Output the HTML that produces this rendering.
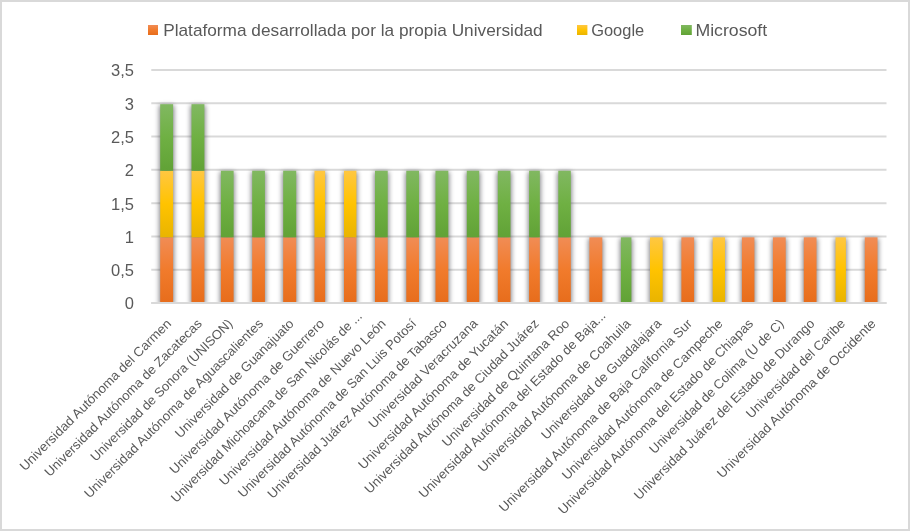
<!DOCTYPE html>
<html><head><meta charset="utf-8"><style>
html,body{margin:0;padding:0;background:#fff;}
svg{display:block;will-change:transform;filter:blur(0.3px);}
text{font-family:"Liberation Sans",sans-serif;fill:#595959;}
</style></head><body>
<svg width="910" height="531" viewBox="0 0 910 531">
<defs>
<linearGradient id="gO" x1="0" y1="0" x2="0" y2="1"><stop offset="0" stop-color="#F18C55"/><stop offset="0.5" stop-color="#F17B2C"/><stop offset="1" stop-color="#E76D1C"/></linearGradient>
<linearGradient id="gY" x1="0" y1="0" x2="0" y2="1"><stop offset="0" stop-color="#FFC742"/><stop offset="0.5" stop-color="#FFC300"/><stop offset="1" stop-color="#E9B400"/></linearGradient>
<linearGradient id="gG" x1="0" y1="0" x2="0" y2="1"><stop offset="0" stop-color="#81B861"/><stop offset="0.5" stop-color="#6FB043"/><stop offset="1" stop-color="#61A236"/></linearGradient>
<filter id="sh" x="-100%" y="-20%" width="300%" height="140%" color-interpolation-filters="sRGB">
<feMorphology in="SourceAlpha" operator="dilate" radius="0.8"/>
<feOffset dx="0" dy="2"/>
<feGaussianBlur stdDeviation="2.6"/>
<feComponentTransfer><feFuncA type="linear" slope="0.62"/></feComponentTransfer>
<feColorMatrix type="matrix" values="0 0 0 0 0.22  0 0 0 0 0.22  0 0 0 0 0.25  0 0 0 1 0"/>
<feMerge><feMergeNode/><feMergeNode in="SourceGraphic"/></feMerge>
</filter>
<clipPath id="pc"><rect x="151" y="60" width="735" height="242.3"/></clipPath>
</defs>
<rect x="1" y="1" width="908" height="529" fill="#fff" stroke="#d9d9d9" stroke-width="2"/>

<line x1="151.3" x2="886.5" y1="303.00" y2="303.00" stroke="#d9d9d9" stroke-width="2"/>
<line x1="151.3" x2="886.5" y1="269.71" y2="269.71" stroke="#d9d9d9" stroke-width="2"/>
<line x1="151.3" x2="886.5" y1="236.43" y2="236.43" stroke="#d9d9d9" stroke-width="2"/>
<line x1="151.3" x2="886.5" y1="203.14" y2="203.14" stroke="#d9d9d9" stroke-width="2"/>
<line x1="151.3" x2="886.5" y1="169.86" y2="169.86" stroke="#d9d9d9" stroke-width="2"/>
<line x1="151.3" x2="886.5" y1="136.57" y2="136.57" stroke="#d9d9d9" stroke-width="2"/>
<line x1="151.3" x2="886.5" y1="103.29" y2="103.29" stroke="#d9d9d9" stroke-width="2"/>
<line x1="151.3" x2="886.5" y1="70.00" y2="70.00" stroke="#d9d9d9" stroke-width="2"/>
<g clip-path="url(#pc)"><g filter="url(#sh)">
<rect x="160.20" y="237.33" width="12.900000000000006" height="65.07" fill="url(#gO)"/>
<rect x="160.20" y="170.76" width="12.900000000000006" height="66.57" fill="url(#gY)"/>
<rect x="160.20" y="104.19" width="12.900000000000006" height="66.57" fill="url(#gG)"/>
<rect x="191.50" y="237.33" width="12.900000000000006" height="65.07" fill="url(#gO)"/>
<rect x="191.50" y="170.76" width="12.900000000000006" height="66.57" fill="url(#gY)"/>
<rect x="191.50" y="104.19" width="12.900000000000006" height="66.57" fill="url(#gG)"/>
<rect x="220.90" y="237.33" width="12.699999999999989" height="65.07" fill="url(#gO)"/>
<rect x="220.90" y="170.76" width="12.699999999999989" height="66.57" fill="url(#gG)"/>
<rect x="252.20" y="237.33" width="12.699999999999989" height="65.07" fill="url(#gO)"/>
<rect x="252.20" y="170.76" width="12.699999999999989" height="66.57" fill="url(#gG)"/>
<rect x="283.20" y="237.33" width="13.0" height="65.07" fill="url(#gO)"/>
<rect x="283.20" y="170.76" width="13.0" height="66.57" fill="url(#gG)"/>
<rect x="314.50" y="237.33" width="10.600000000000023" height="65.07" fill="url(#gO)"/>
<rect x="314.50" y="170.76" width="10.600000000000023" height="66.57" fill="url(#gY)"/>
<rect x="344.00" y="237.33" width="12.399999999999977" height="65.07" fill="url(#gO)"/>
<rect x="344.00" y="170.76" width="12.399999999999977" height="66.57" fill="url(#gY)"/>
<rect x="375.00" y="237.33" width="12.699999999999989" height="65.07" fill="url(#gO)"/>
<rect x="375.00" y="170.76" width="12.699999999999989" height="66.57" fill="url(#gG)"/>
<rect x="406.30" y="237.33" width="12.699999999999989" height="65.07" fill="url(#gO)"/>
<rect x="406.30" y="170.76" width="12.699999999999989" height="66.57" fill="url(#gG)"/>
<rect x="435.50" y="237.33" width="12.800000000000011" height="65.07" fill="url(#gO)"/>
<rect x="435.50" y="170.76" width="12.800000000000011" height="66.57" fill="url(#gG)"/>
<rect x="466.80" y="237.33" width="12.399999999999977" height="65.07" fill="url(#gO)"/>
<rect x="466.80" y="170.76" width="12.399999999999977" height="66.57" fill="url(#gG)"/>
<rect x="497.80" y="237.33" width="12.699999999999989" height="65.07" fill="url(#gO)"/>
<rect x="497.80" y="170.76" width="12.699999999999989" height="66.57" fill="url(#gG)"/>
<rect x="529.10" y="237.33" width="10.699999999999932" height="65.07" fill="url(#gO)"/>
<rect x="529.10" y="170.76" width="10.699999999999932" height="66.57" fill="url(#gG)"/>
<rect x="558.30" y="237.33" width="12.5" height="65.07" fill="url(#gO)"/>
<rect x="558.30" y="170.76" width="12.5" height="66.57" fill="url(#gG)"/>
<rect x="589.40" y="237.33" width="12.899999999999977" height="65.07" fill="url(#gO)"/>
<rect x="620.90" y="237.33" width="10.5" height="65.07" fill="url(#gG)"/>
<rect x="650.00" y="237.33" width="12.700000000000045" height="65.07" fill="url(#gY)"/>
<rect x="681.40" y="237.33" width="12.700000000000045" height="65.07" fill="url(#gO)"/>
<rect x="712.70" y="237.33" width="12.299999999999955" height="65.07" fill="url(#gY)"/>
<rect x="741.90" y="237.33" width="12.5" height="65.07" fill="url(#gO)"/>
<rect x="772.90" y="237.33" width="12.800000000000068" height="65.07" fill="url(#gO)"/>
<rect x="803.80" y="237.33" width="12.700000000000045" height="65.07" fill="url(#gO)"/>
<rect x="835.50" y="237.33" width="10.399999999999977" height="65.07" fill="url(#gY)"/>
<rect x="864.80" y="237.33" width="12.700000000000045" height="65.07" fill="url(#gO)"/>
</g></g>
<line x1="151.3" x2="886.5" y1="303.00" y2="303.00" stroke="#d9d9d9" stroke-width="2"/>
<text x="134" y="309.40" font-size="16.5" text-anchor="end">0</text>
<text x="134" y="276.11" font-size="16.5" text-anchor="end">0,5</text>
<text x="134" y="242.83" font-size="16.5" text-anchor="end">1</text>
<text x="134" y="209.54" font-size="16.5" text-anchor="end">1,5</text>
<text x="134" y="176.26" font-size="16.5" text-anchor="end">2</text>
<text x="134" y="142.97" font-size="16.5" text-anchor="end">2,5</text>
<text x="134" y="109.69" font-size="16.5" text-anchor="end">3</text>
<text x="134" y="76.40" font-size="16.5" text-anchor="end">3,5</text>
<rect x="148" y="25" width="10" height="10" fill="url(#gO)"/>
<text x="163.2" y="35.8" font-size="17" textLength="379.5" lengthAdjust="spacingAndGlyphs">Plataforma desarrollada por la propia Universidad</text>
<rect x="577" y="25" width="10.4" height="10" fill="url(#gY)"/>
<text x="591.2" y="35.8" font-size="17" textLength="53" lengthAdjust="spacingAndGlyphs">Google</text>
<rect x="681" y="25" width="10.8" height="10" fill="url(#gG)"/>
<text x="695.4" y="35.8" font-size="17" textLength="71.8" lengthAdjust="spacingAndGlyphs">Microsoft</text>
<text transform="translate(172.02,324.40) rotate(-45)" font-size="13.0" text-anchor="end" textLength="208.1" lengthAdjust="spacingAndGlyphs">Universidad Autónoma del Carmen</text>
<text transform="translate(202.65,324.40) rotate(-45)" font-size="13.0" text-anchor="end" textLength="216.3" lengthAdjust="spacingAndGlyphs">Universidad Autónoma de Zacatecas</text>
<text transform="translate(233.28,324.40) rotate(-45)" font-size="13.0" text-anchor="end" textLength="194.6" lengthAdjust="spacingAndGlyphs">Universidad de Sonora (UNISON)</text>
<text transform="translate(263.92,324.40) rotate(-45)" font-size="13.0" text-anchor="end" textLength="246.7" lengthAdjust="spacingAndGlyphs">Universidad Autónoma de Aguascalientes</text>
<text transform="translate(294.55,324.40) rotate(-45)" font-size="13.0" text-anchor="end" textLength="161.6" lengthAdjust="spacingAndGlyphs">Universidad de Guanajuato</text>
<text transform="translate(325.18,324.40) rotate(-45)" font-size="13.0" text-anchor="end" textLength="212.7" lengthAdjust="spacingAndGlyphs">Universidad Autónoma de Guerrero</text>
<text transform="translate(362.82,316.90) rotate(-45)" font-size="13.0" text-anchor="end" textLength="263.7" lengthAdjust="spacingAndGlyphs">Universidad Michoacana de San Nicolás de ...</text>
<text transform="translate(386.45,324.40) rotate(-45)" font-size="13.0" text-anchor="end" textLength="229.0" lengthAdjust="spacingAndGlyphs">Universidad Autónoma de Nuevo León</text>
<text transform="translate(417.08,324.40) rotate(-45)" font-size="13.0" text-anchor="end" textLength="246.0" lengthAdjust="spacingAndGlyphs">Universidad Autónoma de San Luis Potosí</text>
<text transform="translate(447.72,324.40) rotate(-45)" font-size="13.0" text-anchor="end" textLength="247.4" lengthAdjust="spacingAndGlyphs">Universidad Juárez Autónoma de Tabasco</text>
<text transform="translate(478.35,324.40) rotate(-45)" font-size="13.0" text-anchor="end" textLength="148.0" lengthAdjust="spacingAndGlyphs">Universidad Veracruzana</text>
<text transform="translate(508.98,324.40) rotate(-45)" font-size="13.0" text-anchor="end" textLength="205.8" lengthAdjust="spacingAndGlyphs">Universidad Autónoma de Yucatán</text>
<text transform="translate(539.62,324.40) rotate(-45)" font-size="13.0" text-anchor="end" textLength="240.2" lengthAdjust="spacingAndGlyphs">Universidad Autónoma de Ciudad Juárez</text>
<text transform="translate(570.25,324.40) rotate(-45)" font-size="13.0" text-anchor="end" textLength="174.0" lengthAdjust="spacingAndGlyphs">Universidad de Quintana Roo</text>
<text transform="translate(606.38,316.40) rotate(-45)" font-size="13.0" text-anchor="end" textLength="257.8" lengthAdjust="spacingAndGlyphs">Universidad Autónoma del Estado de Baja...</text>
<text transform="translate(631.52,324.40) rotate(-45)" font-size="13.0" text-anchor="end" textLength="209.8" lengthAdjust="spacingAndGlyphs">Universidad Autónoma de Coahuila</text>
<text transform="translate(662.15,324.40) rotate(-45)" font-size="13.0" text-anchor="end" textLength="163.7" lengthAdjust="spacingAndGlyphs">Universidad de Guadalajara</text>
<text transform="translate(692.78,324.40) rotate(-45)" font-size="13.0" text-anchor="end" textLength="266.5" lengthAdjust="spacingAndGlyphs">Universidad Autónoma de Baja California Sur</text>
<text transform="translate(723.42,324.40) rotate(-45)" font-size="13.0" text-anchor="end" textLength="220.8" lengthAdjust="spacingAndGlyphs">Universidad Autónoma de Campeche</text>
<text transform="translate(754.05,324.40) rotate(-45)" font-size="13.0" text-anchor="end" textLength="269.5" lengthAdjust="spacingAndGlyphs">Universidad Autónoma del Estado de Chiapas</text>
<text transform="translate(784.68,324.40) rotate(-45)" font-size="13.0" text-anchor="end" textLength="184.0" lengthAdjust="spacingAndGlyphs">Universidad de Colima (U de C)</text>
<text transform="translate(815.32,324.40) rotate(-45)" font-size="13.0" text-anchor="end" textLength="249.0" lengthAdjust="spacingAndGlyphs">Universidad Juárez del Estado de Durango</text>
<text transform="translate(845.95,324.40) rotate(-45)" font-size="13.0" text-anchor="end" textLength="133.8" lengthAdjust="spacingAndGlyphs">Universidad del Caribe</text>
<text transform="translate(876.58,324.40) rotate(-45)" font-size="13.0" text-anchor="end" textLength="218.4" lengthAdjust="spacingAndGlyphs">Universidad Autónoma de Occidente</text>
</svg></body></html>
